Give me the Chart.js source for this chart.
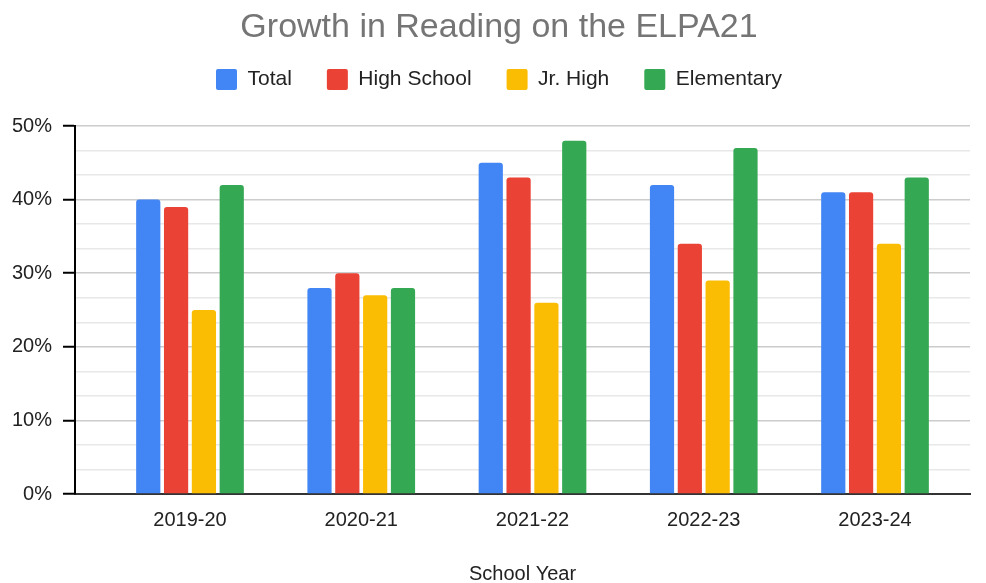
<!DOCTYPE html>
<html><head><meta charset="utf-8">
<script src="https://cdn.jsdelivr.net/npm/chart.js@4"></script>
<style>html,body{margin:0;padding:0;background:#fff}#wrap{width:986px;height:583px;position:relative}</style>
</head><body><div id="wrap"><canvas id="c"></canvas></div>
<script>
const chartTitle = 'Growth in Reading on the ELPA21';
const xAxisTitle = 'School Year';
const categories = ['2019-20', '2020-21', '2021-22', '2022-23', '2023-24'];
const seriesNames = ['Total', 'High School', 'Jr. High', 'Elementary'];
const totalValues = [40, 28, 45, 42, 41];
const highSchoolValues = [39, 30, 43, 34, 41];
const jrHighValues = [25, 27, 26, 29, 34];
const elementaryValues = [42, 28, 48, 47, 43];
const yMajorTicks = [0, 10, 20, 30, 40, 50];
const minorPerMajor = 3;

const colors = ['#4285F4', '#EA4335', '#FBBC04', '#34A853'];
const allValues = [totalValues, highSchoolValues, jrHighValues, elementaryValues];

const FONT = "'Liberation Sans', Arial, sans-serif";

const datasets = seriesNames.map((name, s) => ({
  label: name,
  data: allValues[s].map((v, i) => ({ x: i, y: v })),
  backgroundColor: colors[s],
  borderColor: colors[s],
  borderWidth: 0,
  borderRadius: 3,
  categoryPercentage: 0.65,
  barPercentage: 0.87
}));

const yTicks = [];
for (let m = 0; m < yMajorTicks.length; m++) {
  yTicks.push(yMajorTicks[m]);
  if (m < yMajorTicks.length - 1) {
    const step = (yMajorTicks[m + 1] - yMajorTicks[m]) / minorPerMajor;
    for (let k = 1; k < minorPerMajor; k++) yTicks.push(yMajorTicks[m] + step * k);
  }
}
const isMajor = v => yMajorTicks.some(t => Math.abs(t - v) < 1e-6);

const legendSpacer = {
  id: 'legendSpacer',
  beforeInit(chart) {
    const orig = chart.legend.fit;
    chart.legend.fit = function () { orig.call(this); this.height += 26; };
  },
  afterLayout(chart) {
    [chart.titleBlock, chart.legend].forEach(b => { if (b) { b.left += 14; b.right += 14; } });
  }
};

new Chart(document.getElementById('c'), {
  type: 'bar',
  data: { datasets },
  plugins: [legendSpacer],
  options: {
    responsive: true,
    maintainAspectRatio: false,
    animation: false,
    layout: { padding: { left: 0, right: 16, top: 0, bottom: 0 } },
    plugins: {
      title: {
        display: true,
        text: chartTitle,
        color: '#757575',
        font: { family: FONT, size: 34, weight: 'normal', lineHeight: 1.2 },
        padding: { top: 7, bottom: -13.8 }
      },
      legend: {
        display: true,
        position: 'top',
        labels: {
          boxWidth: 21,
          boxHeight: 21,
          padding: 35,
          color: '#222222',
          font: { family: FONT, size: 21 },
          useBorderRadius: true,
          borderRadius: 2
        }
      },
      tooltip: { enabled: false }
    },
    scales: {
      x: {
        type: 'linear',
        min: -0.6715,
        max: 4.5547,
        offset: false,
        afterBuildTicks: scale => { scale.ticks = categories.map((c, i) => ({ value: i })); },
        afterFit: scale => { scale.height = 89; },
        ticks: {
          autoSkip: false,
          maxRotation: 0,
          padding: 14,
          color: '#222222',
          font: { family: FONT, size: 20 },
          callback: v => categories[v]
        },
        grid: { display: true, drawOnChartArea: false, drawTicks: false },
        border: { display: true, color: '#333333', width: 2 },
        title: {
          display: true,
          text: xAxisTitle,
          color: '#222222',
          font: { family: FONT, size: 20, lineHeight: 1.2 },
          padding: { top: 0, bottom: -3 }
        }
      },
      y: {
        type: 'linear',
        min: 0,
        max: 50,
        afterBuildTicks: scale => { scale.ticks = yTicks.map(v => ({ value: v })); },
        afterFit: scale => { scale.width = 75; },
        ticks: {
          autoSkip: false,
          padding: 11,
          color: '#222222',
          font: { family: FONT, size: 20 },
          callback: v => isMajor(v) ? Math.round(v) + '%' : ''
        },
        grid: {
          color: ctx => isMajor(ctx.tick.value) ? '#cccccc' : '#e8e8e8',
          lineWidth: 1.5,
          tickColor: ctx => isMajor(ctx.tick.value) ? '#000000' : 'rgba(0,0,0,0)',
          tickLength: 12,
          tickWidth: 2
        },
        border: { display: true, color: '#000000', width: 2 }
      }
    }
  }
});
</script>
</body></html>
